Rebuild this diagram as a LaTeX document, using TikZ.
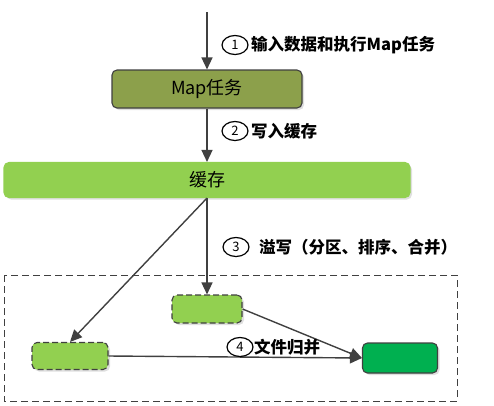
\documentclass[tikz,border=0pt]{standalone}
\usepackage{fontspec}
\setmainfont{Noto Sans CJK SC}
\usetikzlibrary{arrows.meta,shadows,shapes.geometric}
\definecolor{olivebox}{RGB}{140,160,75}
\definecolor{lightg}{RGB}{146,208,80}
\definecolor{darkg}{RGB}{0,176,80}
\definecolor{edgegray}{RGB}{64,64,64}
\begin{document}
\begin{tikzpicture}[x=1pt,y=-1pt,
  box/.style={draw=edgegray,line width=1.1pt,rounded corners=5pt,inner sep=0pt,
    drop shadow={shadow xshift=2pt,shadow yshift=-2pt,opacity=0.25,fill=gray}},
  conn/.style={draw=edgegray,line width=1.4pt,-{Triangle[length=12pt,width=11pt]}},
  num/.style={draw=black,line width=1.2pt,shape=ellipse,minimum width=26pt,minimum height=19pt,inner sep=0pt,font=\fontsize{13}{13}\selectfont},
  lab/.style={anchor=west,inner sep=0pt,font=\fontsize{16.5}{16.5}\selectfont\bfseries}
]
\useasboundingbox (0,0) rectangle (494,405);
% dashed frame
\draw[edgegray,line width=1pt,dash pattern=on 7pt off 4pt] (4,275) rectangle (457,401);
% boxes
\node[box,fill=olivebox,minimum width=190pt,minimum height=38pt,font=\fontsize{18}{18}\selectfont] (map) at (207,89) {Map任务};
\node[box,draw=lightg,fill=lightg,minimum width=406pt,minimum height=35pt,font=\fontsize{18}{18}\selectfont] (cache) at (207,180) {缓存};
\node[box,fill=lightg,dash pattern=on 6pt off 3pt,minimum width=70pt,minimum height=28pt] (mid) at (207,309) {};
\node[box,fill=lightg,dash pattern=on 6pt off 3pt,minimum width=76pt,minimum height=27pt] (left) at (70,356) {};
\node[box,fill=darkg,minimum width=75pt,minimum height=30pt] (right) at (400,358) {};
% start point
\coordinate (start) at (207,12);
% connectors
\draw[conn] (start) -- (map.north);
\draw[conn] (map.south) -- (cache.north);
\draw[conn] (cache.south) -- (mid.north);
\draw[conn] (cache.south) -- (left.north);
\draw[conn] (mid.east) -- (right.west);
\draw[conn] (left.east) -- (right.west);
% labels
\node[num] (n1) at (235,45) {1};
\node[lab] (t1) at (251,45) {输入数据和执行Map任务};
\node[num] (n2) at (235,131) {2};
\node[lab] (t2) at (251,131) {写入缓存};
\node[num] (n3) at (236,247) {3};
\node[lab] (t3) at (259,247) {溢写（分区、排序、合并）};
\node[num] (n4) at (240,347) {4};
\node[lab] (t4) at (254,347) {文件归并};
\end{tikzpicture}
\end{document}
